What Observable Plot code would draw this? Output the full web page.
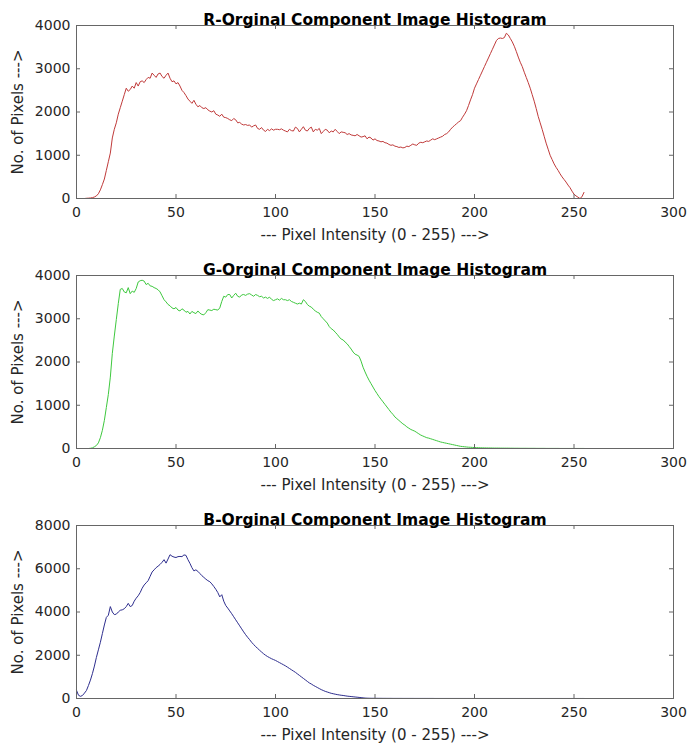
<!DOCTYPE html>
<html>
<head>
<meta charset="utf-8">
<script src="https://cdn.jsdelivr.net/npm/d3@7"></script>
<script src="https://cdn.jsdelivr.net/npm/@observablehq/plot@0.6"></script>
<style>
  html, body { margin: 0; padding: 0; background: #fff; }
  #chart svg { display: block; }
</style>
</head>
<body>
<div id="chart"></div>
<script>
// Histogram counts for pixel intensities 0..255
const redCounts = [
  0,0,0,0,0,5,8,12,20,35,60,110,200,320,450,650,
  850,1050,1400,1600,1750,1950,2100,2250,2400,2550,2480,2520,2600,2550,2680,2600,
  2700,2720,2680,2750,2800,2780,2900,2850,2800,2880,2900,2820,2780,2850,2900,2780,
  2700,2720,2650,2680,2600,2500,2450,2380,2300,2250,2200,2270,2180,2120,2150,2100,
  2080,2100,2050,2020,2000,2030,1950,1930,1900,1950,1880,1870,1850,1820,1800,1850,
  1820,1750,1760,1720,1700,1710,1690,1700,1650,1680,1700,1620,1600,1640,1580,1550,
  1600,1570,1610,1580,1600,1600,1590,1610,1580,1560,1540,1600,1570,1560,1650,1620,
  1540,1600,1660,1580,1560,1620,1650,1540,1600,1580,1620,1500,1550,1600,1580,1520,
  1560,1540,1600,1550,1500,1540,1530,1520,1480,1500,1470,1460,1450,1480,1450,1420,
  1430,1450,1380,1420,1400,1350,1380,1340,1330,1310,1320,1290,1280,1250,1230,1240,
  1210,1200,1180,1190,1170,1180,1210,1200,1230,1260,1240,1230,1280,1300,1290,1310,
  1330,1320,1350,1380,1360,1380,1400,1420,1440,1480,1500,1540,1600,1650,1690,1730,
  1770,1800,1880,1950,2030,2150,2280,2400,2550,2650,2750,2850,2950,3050,3150,3250,
  3350,3450,3550,3650,3700,3710,3700,3720,3820,3780,3700,3620,3520,3400,3270,3150,
  3050,2920,2800,2680,2550,2400,2250,2080,1900,1750,1600,1440,1280,1140,1000,900,
  800,720,650,570,500,440,380,310,250,170,100,60,30,0,40,140
];
const greenCounts = [
  0,0,0,0,0,0,0,5,15,40,70,130,250,420,650,950,
  1250,1650,2200,2600,2980,3350,3680,3700,3620,3600,3720,3580,3640,3610,3700,3850,
  3880,3890,3870,3790,3820,3760,3750,3720,3700,3670,3620,3530,3440,3390,3330,3300,
  3250,3230,3260,3200,3180,3230,3200,3150,3170,3110,3170,3140,3120,3180,3130,3100,
  3090,3140,3210,3200,3190,3220,3210,3200,3250,3400,3520,3500,3560,3560,3480,3540,
  3590,3520,3500,3550,3560,3540,3570,3580,3550,3520,3560,3540,3510,3520,3480,3500,
  3470,3500,3450,3420,3440,3460,3430,3470,3440,3440,3420,3440,3400,3380,3360,3340,
  3360,3340,3440,3400,3330,3290,3270,3220,3180,3150,3130,3050,3000,2950,2900,2820,
  2770,2740,2690,2640,2580,2530,2510,2460,2420,2360,2300,2230,2180,2160,2130,2020,
  1880,1770,1670,1580,1500,1420,1340,1270,1200,1140,1080,1020,960,900,840,790,
  730,690,650,610,570,540,500,470,440,420,400,370,340,310,290,270,
  250,240,225,210,195,180,165,150,140,130,120,110,100,90,80,70,
  60,50,45,40,35,30,28,25,22,20,18,16,15,14,13,12,
  12,11,10,10,10,9,9,8,8,8,7,7,6,6,6,5,
  5,5,5,4,4,4,4,3,3,3,3,3,2,2,2,2,
  2,2,2,1,1,1,1,1,1,1,1,1,1,1,1,1
];
const blueCounts = [
  380,150,100,140,250,370,600,850,1150,1500,1900,2250,2600,3000,3400,3750,
  3850,4250,4000,3880,3900,4000,4080,4100,4150,4250,4400,4250,4300,4500,4640,4750,
  4900,5100,5250,5350,5450,5650,5850,5950,6050,6120,6200,6300,6420,6260,6450,6650,
  6580,6540,6520,6560,6570,6560,6640,6620,6420,6250,6050,5900,5950,5880,5780,5680,
  5600,5520,5450,5400,5300,5180,5050,4900,4700,4800,4500,4300,4180,4050,3920,3780,
  3640,3500,3360,3220,3080,2950,2830,2720,2600,2500,2400,2320,2230,2150,2070,2000,
  1940,1890,1840,1800,1760,1710,1660,1610,1560,1510,1450,1390,1330,1270,1210,1140,
  1070,1000,930,860,790,720,670,610,560,510,460,410,370,330,300,270,
  240,220,200,180,165,150,140,125,110,100,90,80,70,60,50,40,
  30,20,15,12,10,10,9,9,8,8,7,7,6,6,6,5,
  5,5,5,5,4,4,4,4,4,4,3,3,3,3,3,3,
  3,3,3,3,2,2,2,2,2,2,2,2,2,2,2,2,
  2,2,2,2,2,2,1,1,1,1,1,1,1,1,1,1,
  1,1,1,1,1,1,1,1,1,1,1,1,1,1,1,1,
  1,1,1,1,1,1,1,1,1,1,1,1,1,1,1,1,
  1,1,1,1,1,1,1,1,1,1,1,1,1,1,1,1
];

const panelTitles = [
  "R-Orginal Component Image Histogram",
  "G-Orginal Component Image Histogram",
  "B-Orginal Component Image Histogram"
];
const lineColors = ["#c03a3a", "#3ec83e", "#2e2e8e"];
const xTicks = [0, 50, 100, 150, 200, 250, 300];
const yTicksRG = [0, 1000, 2000, 3000, 4000];
const yTicksB = [0, 2000, 4000, 6000, 8000];
const xLabel = "--- Pixel Intensity (0 - 255) --->";
const yLabel = "No. of Pixels --->";

const W = 697, H = 250, mT = 25, mB = 52, mL = 76, mR = 24;
const innerW = W - mL - mR, innerH = H - mT - mB;
const axisColor = "#666";

function panel(counts, title, color, yTicks) {
  const data = counts.map((c, i) => ({bin: i, count: c}));
  return Plot.plot({
    width: W, height: H,
    marginTop: mT, marginBottom: mB, marginLeft: mL, marginRight: mR,
    style: {fontFamily: "'DejaVu Sans', sans-serif", fontSize: "14px", color: "#262626", background: "white"},
    x: {domain: [xTicks[0], xTicks[xTicks.length - 1]]},
    y: {domain: [yTicks[0], yTicks[yTicks.length - 1]]},
    marks: [
      Plot.line(data, {x: "bin", y: "count", stroke: color, strokeWidth: 1}),
      Plot.frame({stroke: axisColor}),
      Plot.tickX(xTicks, {x: d => d, insetTop: innerH - 4, stroke: axisColor}),
      Plot.tickX(xTicks, {x: d => d, insetBottom: innerH - 4, stroke: axisColor}),
      Plot.tickY(yTicks, {y: d => d, insetRight: innerW - 4, stroke: axisColor}),
      Plot.tickY(yTicks, {y: d => d, insetLeft: innerW - 4, stroke: axisColor}),
      Plot.axisX(xTicks, {tickSize: 0, tickPadding: 9, label: null, tickFormat: d => String(d), fill: "#262626"}),
      Plot.axisY(yTicks, {tickSize: 0, tickPadding: 6, label: null, tickFormat: d => String(d), fill: "#262626"}),
      Plot.text([xLabel], {text: d => d, frameAnchor: "bottom", dy: 41, fontSize: 15, fill: "#262626"}),
      Plot.text([yLabel], {text: d => d, frameAnchor: "left", dx: -58, rotate: -90, textAnchor: "middle", fontSize: 15, fill: "#262626"}),
      Plot.text([title], {text: d => d, frameAnchor: "top", dy: -12, fontSize: 15.5, fontWeight: "bold", fill: "#000"})
    ]
  });
}

const root = document.getElementById("chart");
root.appendChild(panel(redCounts, panelTitles[0], lineColors[0], yTicksRG));
root.appendChild(panel(greenCounts, panelTitles[1], lineColors[1], yTicksRG));
root.appendChild(panel(blueCounts, panelTitles[2], lineColors[2], yTicksB));
</script>
</body>
</html>
